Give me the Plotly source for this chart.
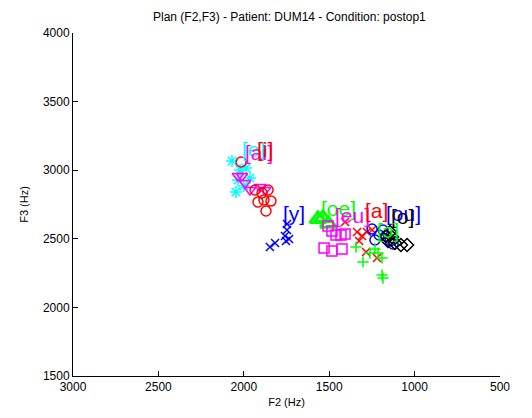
import plotly.graph_objects as go

# Vowel data (F2, F3 in Hz)
vowels = ["[e]", "[ai]", "[i]", "[y]", "[oe]", "[eu]", "[a]", "[ou]", "[o]", "[ɔ]"]
colors = ["#00FFFF", "#FF00FF", "#FF0000", "#0000FF", "#00FF00", "#FF00FF", "#FF0000", "#0000FF", "#000000", "#00FF00"]
symbols = ["asterisk-open", "triangle-down-open", "circle-open", "x-thin-open", "triangle-up-open",
           "square-open", "x-thin-open", "circle-open", "diamond-open", "cross-thin-open"]

f2_e = [2069, 2022, 1987, 2034, 1964, 2046, 2000]
f3_e = [3067, 3001, 3016, 2929, 2943, 2841, 2885]
f2_ai = [2034, 1993, 1964, 1905, 1876, 2011]
f3_ai = [2958, 2907, 2856, 2877, 2856, 2958]
f2_i = [2016, 1934, 1893, 1858, 1917, 1882, 1841, 1870]
f3_i = [3060, 2856, 2834, 2856, 2768, 2783, 2775, 2703]
f2_y = [1747, 1747, 1759, 1735, 1753, 1817, 1847]
f3_y = [2608, 2564, 2520, 2498, 2484, 2469, 2440]
f2_oe = [1566, 1537, 1505]
f3_oe = [2644, 2652, 2610]
f2_eu = [1507, 1484, 1460, 1431, 1407, 1530, 1484, 1425]
f3_eu = [2593, 2557, 2528, 2528, 2535, 2433, 2411, 2426]
f2_a = [1407, 1337, 1308, 1279, 1325, 1284, 1220, 1249]
f3_a = [2622, 2549, 2520, 2549, 2484, 2404, 2360, 2564]
f2_ou = [1249, 1208, 1232, 1167, 1144, 1126, 1185]
f3_ou = [2571, 2528, 2491, 2520, 2484, 2462, 2564]
f2_o = [1167, 1156, 1132, 1115, 1080, 1044, 1144]
f3_o = [2520, 2484, 2513, 2469, 2455, 2455, 2549]
f2_O = [1343, 1302, 1261, 1232, 1214, 1191, 1191, 1185]
f3_O = [2440, 2331, 2396, 2426, 2396, 2360, 2236, 2214]

f2_all = [f2_e, f2_ai, f2_i, f2_y, f2_oe, f2_eu, f2_a, f2_ou, f2_o, f2_O]
f3_all = [f3_e, f3_ai, f3_i, f3_y, f3_oe, f3_eu, f3_a, f3_ou, f3_o, f3_O]

# Label anchor positions (Hz)
label_f2 = [2020, 2002, 1932, 1780, 1557, 1475, 1305, 1182, 1147, 1229]
label_f3 = [3150, 3128, 3150, 2688, 2724, 2673, 2703, 2688, 2659, 2564]

x_ticks = [3000, 2500, 2000, 1500, 1000, 500]
y_ticks = [1500, 2000, 2500, 3000, 3500, 4000]

fig = go.Figure()
for i, v in enumerate(vowels):
    sym = symbols[i]
    size = 10
    lw = 1.5
    if sym == "triangle-up-open":
        size = 14
        lw = 3
    if sym in ("x-thin-open", "cross-thin-open"):
        size = 8
    fig.add_trace(go.Scatter(
        x=f2_all[i], y=f3_all[i], mode="markers", name=v,
        marker=dict(symbol=sym, size=size, color=colors[i],
                    line=dict(color=colors[i], width=lw)),
        showlegend=False,
    ))
    fig.add_annotation(x=label_f2[i], y=label_f3[i], text=v, showarrow=False,
                       xanchor="left", yanchor="middle",
                       font=dict(size=21, color=colors[i], family="Liberation Sans, Arial"))

axis_common = dict(showgrid=False, zeroline=False, showline=True, linecolor="black",
                   linewidth=1, ticks="inside", ticklen=5, tickcolor="black",
                   tickfont=dict(size=12, color="black", family="Liberation Sans, Arial"),
                   mirror=False)

fig.update_xaxes(range=[3000, 500], tickvals=x_ticks, ticktext=[str(t) for t in x_ticks],
                 title=dict(text="F2 (Hz)", font=dict(size=11, color="black"), standoff=4),
                 **axis_common)
fig.update_yaxes(range=[1500, 4000], tickvals=y_ticks, ticktext=[str(t) for t in y_ticks],
                 title=dict(text="F3 (Hz)", font=dict(size=11, color="black"), standoff=12),
                 **axis_common)

fig.update_layout(
    width=524, height=410,
    margin=dict(l=65, r=32, t=25, b=42),
    plot_bgcolor="white", paper_bgcolor="white",
    font=dict(family="Liberation Sans, Arial", color="black"),
    title=dict(text="Plan (F2,F3) - Patient: DUM14 - Condition: postop1",
               x=0.537, xanchor="center", y=0.99, yanchor="top",
               font=dict(size=12, color="black")),
)

fig.write_html("out.html")
